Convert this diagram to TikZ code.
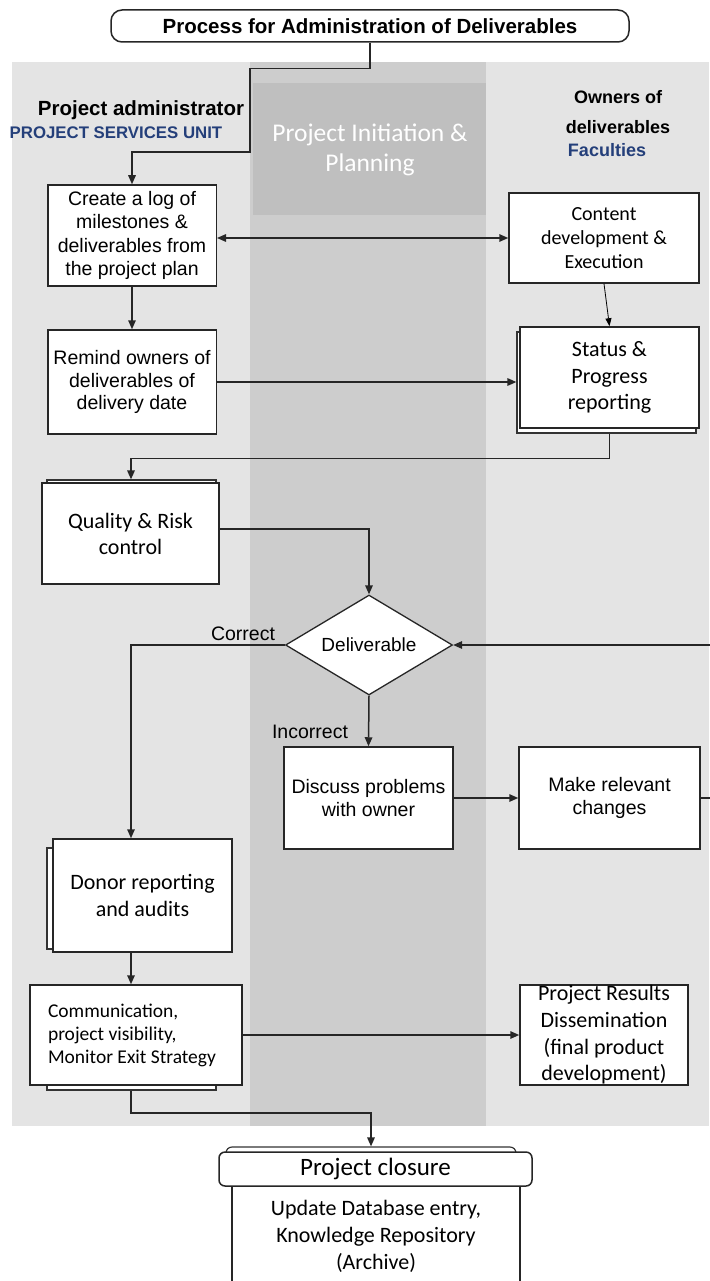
\documentclass[tikz,border=0pt]{standalone}
\usepackage{fontspec}
\setmainfont{Liberation Sans}
\newfontfamily\calib{Carlito}
\usetikzlibrary{arrows.meta,shapes.geometric,calc}
\definecolor{bglight}{HTML}{E4E4E4}
\definecolor{bgmid}{HTML}{CDCDCD}
\definecolor{bgdark}{HTML}{BFBFBF}
\definecolor{lanetxt}{HTML}{243F7A}
\newcommand\myfs[2]{\fontsize{#1}{#2}\selectfont}
\begin{document}
\begin{tikzpicture}[x=1pt,y=-1pt,
  box/.style={draw=black!85, line width=1.5pt, fill=white, inner sep=0pt, align=center},
  backbox/.style={draw=black!80, line width=1.2pt, fill=white},
  conn/.style={line width=1.5pt, draw=black!85},
  arr/.style={conn, -{Triangle[length=9pt,width=7.5pt]}},
  lbl/.style={inner sep=0pt, font=\myfs{19.5}{22}},
]
\useasboundingbox (0,0) rectangle (709,1281);
% lanes
\fill[bglight] (12,62) rectangle (709,1126);
\fill[bgmid] (250,62) rectangle (486,1126);
\fill[bgdark] (253,83) rectangle (486,215);
\node[text=white, align=center, font=\calib\myfs{25.5}{30}] (phase) at (370,150) {Project Initiation \&\\Planning};
% lane headings
\node[font=\bfseries\myfs{20.5}{24}, inner sep=0] (padm) at (141,110) {Project administrator};
\node[font=\bfseries\myfs{16.8}{18}, text=lanetxt, inner sep=0] (psu) at (116,133) {PROJECT SERVICES UNIT};
\node[font=\bfseries\myfs{18}{30}, align=center, inner sep=0] (own) at (618,112) {Owners of\\deliverables};
\node[font=\bfseries\myfs{18}{20}, text=lanetxt, inner sep=0] (fac) at (607,150) {Faculties};
% title
\node[box, rounded corners=11pt, minimum width=518pt, minimum height=32pt, font=\bfseries\myfs{20.5}{24}] (title) at (370,26) {Process for Administration of Deliverables};
% boxes
\node[box, minimum width=168.5pt, minimum height=101pt, font=\myfs{19.5}{23.3}] (create) at (132,235.5) {Create a log of\\milestones \&\\deliverables from\\the project plan};
\node[box, minimum width=190pt, minimum height=90pt, font=\calib\myfs{20}{24}] (content) at (604,238) {Content\\development \&\\Execution};
\node[box, minimum width=168.5pt, minimum height=104pt, font=\myfs{19.5}{22.5}] (remind) at (132,382) {Remind owners of\\deliverables of\\delivery date};
\node[backbox, minimum width=179pt, minimum height=101pt, inner sep=0] (statusb) at (606.5,382.5) {};
\node[box, minimum width=179pt, minimum height=101pt, font=\calib\myfs{22}{26.5}] (status) at (609.5,377.5) {Status \&\\Progress\\reporting};
\node[backbox, minimum width=169pt, minimum height=100pt, inner sep=0] (qualityb) at (131.5,530) {};
\node[box, minimum width=177pt, minimum height=101pt, font=\calib\myfs{22}{26}] (quality) at (130.5,533.5) {Quality \& Risk\\control};
\node[box, diamond, aspect=1.67, minimum width=167pt, minimum height=100pt, line width=1.3pt, font=\myfs{19}{22}] (dia) at (369,645) {Deliverable};
\node[box, minimum width=169pt, minimum height=102pt, font=\myfs{19.5}{23}] (discuss) at (368.5,798) {Discuss problems\\with owner};
\node[box, minimum width=181pt, minimum height=102pt, font=\myfs{19.5}{23}] (make) at (609.5,798) {Make relevant\\changes};
\node[backbox, minimum width=179pt, minimum height=101pt, inner sep=0] (donorb) at (136.5,898.5) {};
\node[box, minimum width=179pt, minimum height=113pt, font=\calib\myfs{22}{27}] (donor) at (142.5,895.5) {Donor reporting\\and audits};
\node[backbox, minimum width=169pt, minimum height=100pt, inner sep=0] (commb) at (131.5,1040) {};
\node[box, minimum width=212pt, minimum height=100pt, align=left, font=\calib\myfs{19.5}{23}] (comm) at (136,1035) {Communication,\\project visibility,\\Monitor Exit Strategy\hspace*{8pt}};
\node[box, minimum width=168pt, minimum height=100pt, font=\calib\myfs{22}{26.7}] (results) at (604,1035) {Project Results\\Dissemination\\(final product\\development)};
% closure
\node[box, minimum width=288pt, minimum height=100pt, font=\calib\myfs{22}{27}] (body) at (376,1236) {Update Database entry,\\Knowledge Repository\\(Archive)};
\node[backbox, rounded corners=6pt, minimum width=290pt, minimum height=33pt, inner sep=0] (closureb) at (371,1163.5) {};
\node[box, rounded corners=6pt, minimum width=313pt, minimum height=34pt, font=\calib\myfs{25}{30}] (closure) at (375.5,1169) {Project closure};
% helper coordinates
\coordinate (lx) at (131,0);
\coordinate (rx) at (713,0);
% connectors
\draw[arr] (title.south) -- ++(0,26) -| (250,152) -| (create.north);
\draw[conn, {Triangle[length=9pt,width=7.5pt]}-{Triangle[length=9pt,width=7.5pt]}] (create.east |- content.west) -- (content.west);
\draw[arr] (create.south) -- (remind.north);
\draw[arr] (remind.east) -- (remind.east -| statusb.west);
\draw[line width=0.8pt, -{Triangle[length=8pt,width=6pt]}] (content.south) -- (status.north);
\draw[arr] (status.south |- statusb.south) -- ++(0,25) -| (lx |- qualityb.north);
\draw[arr] ([yshift=4.5pt]quality.east) -| (dia.north);
\draw[arr] (dia.west) -| (lx |- donor.north);
\draw[arr] (dia.south) -- (discuss.north);
\draw[arr] (discuss.east) -- (make.west);
\draw[arr] (make.east) -- (rx |- make.east) -- (rx |- dia.east) -- (dia.east);
\draw[arr] (lx |- donor.south) -- (lx |- comm.north);
\draw[arr] (comm.east) -- (results.west);
\draw[arr] (lx |- commb.south) -- (lx |- 0,1113) -| (closureb.north);
% labels
\node[lbl] (correct) at (243,634) {Correct};
\node[lbl] (incorrect) at (310,732) {Incorrect};
\end{tikzpicture}
\end{document}
